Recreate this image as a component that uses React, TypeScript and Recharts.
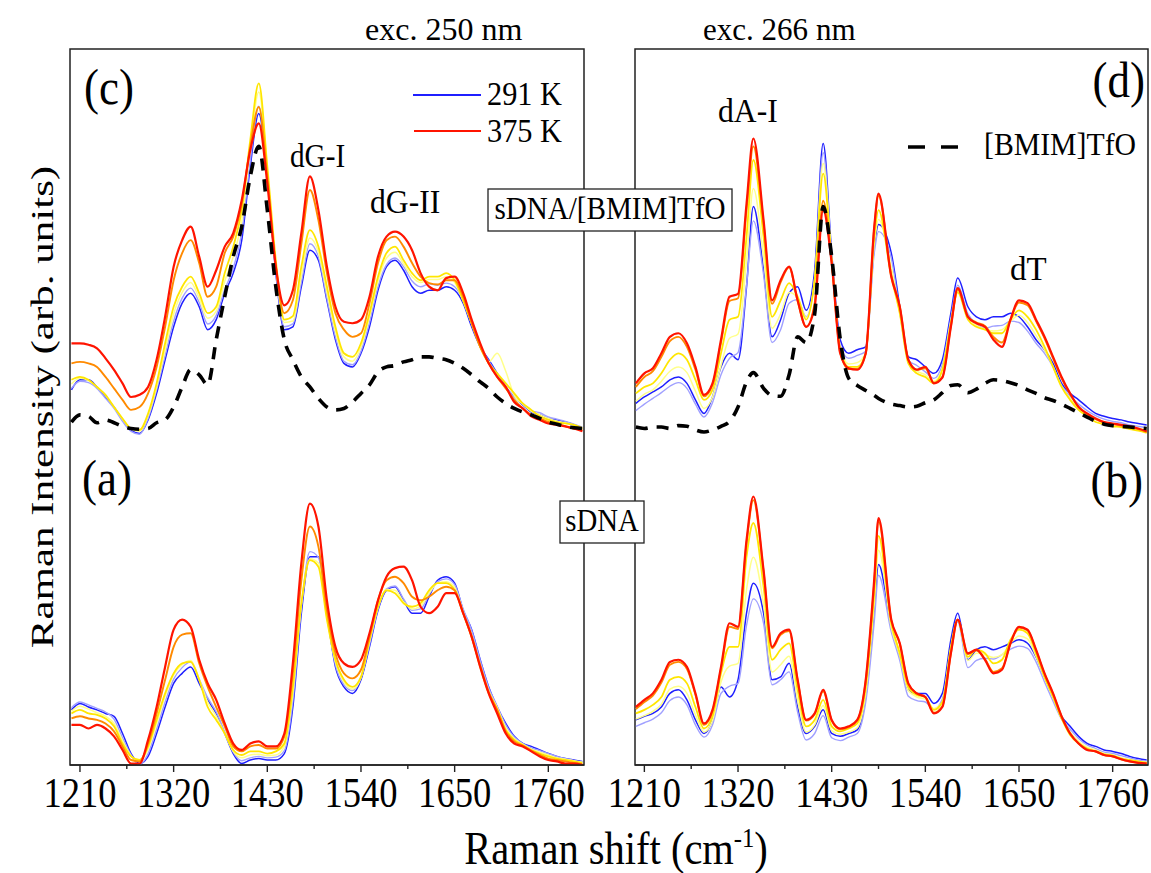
import React from 'react';
import { LineChart, Line, XAxis, YAxis, ReferenceArea } from 'recharts';

const SERIF = "'Liberation Serif', LiberationSerif, Tinos, 'Times New Roman', Times, serif";

// x positions (Raman shift, cm-1)
const wnL = [1200,1210,1220,1230,1240,1250,1260,1270,1280,1290,1300,1310,1320,1330,1340,1350,1360,1370,1380,1390,1400,1410,1420,1430,1440,1450,1460,1470,1480,1490,1500,1510,1520,1530,1540,1550,1560,1570,1580,1590,1600,1610,1620,1630,1640,1650,1660,1670,1680,1690,1700,1710,1720,1730,1740,1750,1760,1770,1780,1790,1800];
const wnR = [1200,1210,1220,1230,1240,1250,1260,1270,1280,1290,1300,1310,1320,1330,1338,1350,1360,1370,1380,1390,1400,1410,1420,1430,1440,1450,1460,1470,1480,1485,1500,1510,1520,1530,1540,1550,1560,1570,1578,1590,1600,1610,1620,1630,1640,1650,1660,1670,1680,1690,1700,1710,1720,1730,1740,1750,1760,1770,1780,1790,1800];

const majorTicks = [1210, 1320, 1430, 1540, 1650, 1760];
const allTicks = [1210, 1265, 1320, 1375, 1430, 1485, 1540, 1595, 1650, 1705, 1760];

// (c) sDNA/[BMIM]TfO, exc. 250 nm (offset upwards)
const cBlue = [52.4,53.8,53.8,52.8,51.4,50.0,48.2,46.8,46.3,48.2,51.9,56.6,61.2,64.5,65.9,64.0,60.8,62.2,65.9,68.7,73.3,83.6,91.0,82.2,68.7,60.8,61.2,66.8,71.9,70.5,64.9,59.4,56.1,55.6,57.5,61.2,66.3,69.6,70.5,69.1,66.8,65.9,66.3,66.3,66.8,66.3,64.5,61.2,58.4,56.6,54.7,52.8,51.4,50.3,49.3,48.9,48.4,48.2,47.9,47.5,47.0];
const cLight = [52.6,53.6,53.4,52.6,51.2,49.8,48.0,46.6,46.2,48.4,52.4,57.2,62.0,65.2,66.6,64.6,61.6,62.8,66.4,69.4,74.4,84.4,92.0,82.6,68.9,61.2,61.6,67.4,72.8,71.0,65.2,59.8,56.4,55.9,57.8,61.8,66.8,69.9,70.8,69.6,67.6,66.8,67.2,67.0,67.3,66.8,64.9,61.6,58.6,56.4,54.6,52.8,51.4,50.4,49.5,49.2,48.6,48.3,48.0,47.6,47.2];
const cPale = [53.2,54.0,53.7,52.8,51.6,50.0,48.3,46.9,46.6,48.8,52.8,58.0,63.0,66.0,67.4,65.2,62.4,63.4,67.6,71.0,76.0,86.2,94.0,83.2,69.8,61.8,62.0,68.4,73.6,71.6,66.0,60.6,57.0,56.4,58.4,62.6,67.6,70.8,71.6,70.0,68.2,67.4,67.8,67.8,68.2,67.4,64.8,61.6,58.5,56.3,57.5,55.0,51.6,50.4,49.4,48.9,48.4,48.0,47.8,47.5,47.1];
const cYellow = [53.8,54.2,53.8,52.8,51.7,50.0,48.4,47.0,46.8,49.1,53.3,58.9,64.0,66.8,68.2,65.9,63.1,64.0,68.7,72.4,77.5,87.3,95.2,83.6,70.5,62.2,62.7,69.6,74.7,72.4,66.8,61.2,57.5,57.0,58.9,63.1,68.2,71.5,72.4,70.5,68.7,67.7,68.2,68.2,68.7,67.7,64.9,61.7,58.4,56.1,54.7,53.3,51.9,50.5,49.6,48.7,48.2,47.9,47.7,47.5,47.0];
const cOrange = [56.1,56.3,56.1,55.6,54.2,52.6,51.0,49.6,50.0,51.9,55.6,61.2,67.7,71.5,73.3,70.1,65.4,66.8,71.5,73.8,78.4,86.4,91.9,82.2,69.6,63.1,64.9,72.8,80.3,76.1,68.7,63.1,60.8,59.8,60.3,64.5,70.1,73.3,73.8,72.4,70.1,68.2,67.3,67.1,67.7,67.7,65.4,61.7,58.4,56.1,54.2,52.6,51.0,49.8,48.9,48.4,47.9,47.7,47.3,47.0,46.8];
const cRed = [58.9,58.9,58.7,58.2,56.8,55.2,53.3,51.4,51.7,52.8,56.6,62.6,69.6,73.3,75.2,71.0,66.8,69.1,72.4,74.3,78.9,85.9,89.6,81.2,69.6,64.2,66.3,74.3,82.2,77.5,69.6,64.0,61.9,61.7,62.2,65.4,71.0,73.8,74.5,73.8,71.9,68.7,66.8,66.3,68.0,68.2,65.9,62.2,58.9,56.1,54.2,52.8,50.7,49.8,48.7,48.2,47.7,47.5,47.3,47.0,46.6];
const cIonic = [47.9,48.9,48.7,47.8,48.2,47.8,47.3,47.0,46.9,47.0,47.8,48.2,50.0,52.8,55.2,54.5,53.1,59.4,65.4,71.0,75.2,82.2,86.4,77.5,66.8,59.4,56.6,54.2,52.8,51.2,50.0,49.6,49.8,50.7,51.9,53.1,54.9,55.6,55.8,56.3,56.6,57.0,57.0,56.8,56.6,56.1,55.4,54.5,53.5,52.6,51.4,50.5,49.8,49.3,48.9,48.4,47.9,47.6,47.3,47.1,47.0];

// (a) sDNA, exc. 250 nm
const aBlue = [7.7,8.6,8.1,7.7,7.2,6.8,4.4,1.6,0.2,1.2,4.4,8.1,11.4,12.8,13.7,11.4,9.1,7.2,4.4,1.6,0.2,0.7,0.9,0.7,0.7,1.6,8.1,21.2,29.1,29.1,21.2,13.7,10.9,10.0,11.9,16.5,21.6,24.4,24.9,23.0,21.2,21.2,23.5,25.8,26.3,25.4,21.6,18.9,14.7,10.9,8.1,5.8,4.0,3.0,2.6,2.1,1.6,1.2,0.9,0.7,0.5];
const aLight = [8.0,8.8,8.4,7.9,7.4,6.4,3.8,1.4,0.0,1.6,5.0,8.8,12.0,13.6,14.4,12.0,9.4,7.4,4.6,1.8,0.6,1.0,1.2,1.0,1.1,2.0,8.9,22.0,29.8,29.0,21.0,14.0,11.2,10.4,12.2,16.8,21.8,24.6,25.0,23.2,21.6,21.8,23.8,25.6,26.0,25.2,21.8,18.8,14.6,10.8,8.2,5.6,3.9,3.0,2.4,2.0,1.6,1.2,0.9,0.6,0.4];
const aPale = [7.5,8.2,7.8,7.3,6.8,5.8,3.4,1.3,0.5,2.2,5.8,9.6,12.6,14.0,14.6,12.0,8.8,6.8,4.4,1.9,1.0,1.4,1.5,1.3,1.4,2.6,10.0,22.4,28.8,28.2,20.6,14.4,11.6,10.6,12.2,17.2,22.0,24.5,24.4,22.8,21.8,22.2,24.0,25.4,25.6,24.8,21.4,18.2,14.0,10.4,8.0,5.2,3.7,2.9,2.2,1.8,1.4,1.0,0.8,0.6,0.4];
const aYellow = [7.2,7.7,7.2,7.0,6.5,5.4,3.0,1.2,0.7,2.6,6.3,10.0,12.8,14.2,14.4,11.9,8.1,6.3,4.4,2.1,1.4,1.9,1.9,1.6,1.9,3.0,10.9,22.6,28.6,27.7,20.3,14.7,11.9,10.9,12.3,17.5,22.1,24.4,24.0,22.6,22.1,22.6,24.4,25.4,25.4,24.4,21.2,17.9,13.7,10.0,7.7,4.9,3.5,2.8,2.1,1.6,1.2,0.9,0.7,0.5,0.3];
const aOrange = [6.5,6.8,6.5,6.3,5.8,4.7,2.6,0.7,0.5,3.0,7.2,11.9,16.5,18.2,18.4,14.2,10.9,8.1,5.4,2.6,1.9,2.6,2.8,2.3,2.3,4.0,12.8,25.8,33.3,30.5,21.6,15.6,12.8,12.1,13.3,17.9,23.0,25.8,26.3,25.4,23.5,23.0,23.5,24.4,24.9,24.4,21.2,17.9,13.9,10.2,7.7,4.7,3.3,2.7,2.0,1.4,0.9,0.7,0.5,0.3,0.1];
const aRed = [5.6,5.6,5.1,5.6,5.1,4.0,2.1,0.2,0.2,3.5,8.1,13.7,18.9,20.3,19.3,14.7,11.4,9.1,5.8,3.0,2.1,3.0,3.3,2.6,2.6,4.4,14.2,28.2,36.5,33.3,23.0,16.5,14.2,13.7,14.7,18.4,23.0,26.3,27.5,27.7,25.8,22.1,21.2,22.1,24.0,24.0,21.2,17.9,13.7,10.0,7.2,4.4,3.0,2.6,1.9,1.2,0.7,0.5,0.2,0.2,0.0];

// (d) sDNA/[BMIM]TfO, exc. 266 nm
const dBlue = [50.5,51.4,52.1,52.8,53.8,54.2,53.3,51.0,49.1,51.4,55.6,57.5,56.6,66.8,78.0,69.1,59.8,62.2,65.9,66.8,63.5,69.1,86.8,71.5,59.4,57.5,58.0,58.4,72.4,75.5,71.5,64.0,57.0,56.6,55.6,54.7,56.6,63.1,68.0,64.0,62.6,62.2,62.6,62.6,63.1,62.6,61.2,59.4,58.0,56.1,53.3,51.9,51.0,50.0,49.1,48.7,48.4,48.2,47.9,47.7,47.5];
const dLight = [49.5,50.4,51.2,52.0,52.9,53.4,52.6,50.4,48.6,50.6,54.5,56.8,57.6,67.0,76.0,68.5,59.0,60.8,64.5,65.0,62.6,68.0,85.5,71.0,58.6,56.8,57.2,57.8,71.5,74.5,70.8,63.2,56.5,55.8,54.9,54.0,55.9,62.4,67.0,63.0,61.6,61.0,61.3,61.4,62.0,61.8,60.6,58.9,57.5,55.6,53.0,51.5,50.4,49.5,48.8,48.3,48.0,47.8,47.5,47.3,47.1];
const dPale = [50.8,51.8,52.4,53.6,55.0,55.6,54.8,52.2,49.8,51.4,55.8,59.6,60.2,70.5,80.5,71.0,61.0,63.0,66.0,65.3,62.5,67.8,84.0,70.8,58.2,56.0,56.2,57.6,72.8,76.2,69.5,63.2,56.3,55.0,54.5,53.6,55.4,62.0,66.2,62.6,61.4,60.9,60.6,60.8,62.0,62.8,61.8,60.0,58.0,55.6,52.9,51.2,49.9,49.0,48.3,47.9,47.6,47.4,47.2,47.0,46.8];
const dYellow = [51.9,52.8,53.3,54.7,56.6,57.5,56.6,53.8,51.0,52.4,57.5,62.2,62.6,73.8,84.5,73.8,62.6,64.9,67.3,65.4,62.2,67.7,82.6,70.5,58.0,55.6,55.6,57.5,73.8,77.5,68.2,63.1,56.1,54.7,54.2,53.3,55.2,61.7,66.0,62.2,61.2,60.8,60.3,60.3,62.2,63.5,62.6,60.8,58.4,55.6,52.8,51.0,49.6,48.7,47.9,47.6,47.3,47.2,46.9,46.7,46.4];
const dOrange = [52.8,54.2,55.0,57.0,59.2,59.8,58.4,55.2,51.5,53.1,59.0,64.8,65.2,77.6,86.4,75.6,64.4,67.4,69.5,64.8,61.2,64.5,78.8,70.2,57.6,55.3,55.3,57.5,75.0,79.5,68.4,64.0,56.6,55.2,55.4,53.4,54.2,61.3,66.4,62.6,61.8,61.3,59.8,59.0,62.2,64.6,64.2,62.0,59.6,56.8,54.0,51.8,50.0,49.0,48.3,47.8,47.6,47.4,47.2,46.9,46.5];
const dRed = [53.3,54.7,55.4,57.5,59.8,60.3,58.9,55.6,51.7,53.3,59.4,65.4,65.8,78.4,87.5,76.1,64.9,67.7,69.6,64.9,61.2,64.0,77.5,70.1,57.5,55.4,55.2,57.5,75.2,79.8,68.2,64.0,56.6,55.2,55.6,53.3,54.1,61.2,66.6,62.6,61.7,61.2,59.4,58.4,62.2,64.9,64.5,62.2,59.8,57.0,54.2,51.9,50.0,49.1,48.4,47.9,47.7,47.5,47.3,47.0,46.6];
const dIonic = [47.2,47.0,47.2,47.2,47.0,47.4,47.3,46.8,46.5,46.8,47.3,48.0,50.0,53.5,54.8,52.6,51.6,51.5,54.5,59.8,59.0,63.0,78.0,71.0,59.5,54.0,53.0,52.3,51.6,51.2,50.4,50.2,50.0,50.1,50.6,51.0,52.0,53.0,53.1,52.0,52.5,53.3,53.8,53.7,53.4,53.0,52.4,51.9,51.3,50.9,50.4,49.8,49.2,48.6,48.0,47.6,47.4,47.3,47.2,47.1,47.0];

// (b) sDNA, exc. 266 nm
const bBlue = [6.3,6.8,7.2,8.1,10.0,10.5,9.1,6.3,4.4,6.3,10.9,9.5,11.9,21.2,25.4,21.2,11.9,12.3,14.2,8.1,4.4,5.4,7.7,4.4,4.0,4.4,4.9,9.5,21.5,28.0,19.3,15.1,10.5,10.0,10.0,8.6,10.0,17.5,21.2,14.7,16.1,16.5,16.1,16.5,17.0,17.5,17.0,15.1,12.3,9.5,6.8,5.4,4.0,3.0,2.6,2.1,1.9,1.6,1.2,0.9,0.7];
const bLight = [5.4,5.9,6.4,7.3,9.0,9.5,8.4,5.6,3.9,5.6,10.0,11.0,11.4,19.5,23.2,19.8,11.2,11.9,13.0,7.4,3.5,4.4,6.9,3.8,3.4,3.9,4.4,8.8,20.0,26.5,18.6,14.6,9.6,9.0,8.8,7.8,9.2,16.4,20.0,13.6,14.6,14.9,14.8,15.4,16.2,16.6,16.3,14.4,11.6,8.9,6.4,5.0,3.7,2.8,2.3,1.8,1.6,1.3,1.0,0.7,0.5];
const bPale = [6.4,6.9,7.5,8.5,10.6,11.0,10.0,7.0,4.6,6.2,11.6,13.8,14.2,24.5,29.0,22.4,13.0,14.0,15.2,9.0,4.6,5.6,8.3,4.8,4.3,4.6,5.2,10.0,22.5,30.0,19.2,15.2,10.4,9.5,9.2,7.9,8.8,16.2,20.2,14.6,15.6,15.4,15.0,15.4,17.0,18.0,17.6,15.2,12.2,9.4,6.5,4.6,3.3,2.5,2.1,1.6,1.4,1.0,0.7,0.5,0.4];
const bYellow = [7.2,7.7,8.4,9.5,11.9,12.3,11.4,8.1,5.1,6.8,12.8,16.5,16.5,29.1,33.8,24.9,14.7,16.1,17.0,10.5,5.4,6.3,9.1,5.4,4.7,5.1,5.8,10.9,24.0,32.0,19.8,15.6,10.9,9.8,9.5,7.7,8.8,16.5,20.3,15.1,16.1,15.6,14.2,14.7,17.5,18.9,18.4,15.6,12.3,9.5,6.5,4.2,3.0,2.3,1.9,1.5,1.3,0.9,0.7,0.5,0.3];
const bOrange = [7.8,8.8,9.7,11.5,14.0,14.4,13.4,9.8,5.6,7.5,13.4,19.3,19.0,31.0,37.0,27.0,16.3,18.2,18.7,11.8,6.2,7.1,10.3,6.2,5.0,5.3,6.2,11.8,25.5,34.0,20.2,16.9,11.3,10.0,9.5,7.3,8.2,15.6,20.3,15.5,16.0,14.8,13.0,13.5,17.0,19.2,18.8,16.0,12.7,9.9,6.8,4.4,3.0,2.2,1.9,1.4,1.2,0.8,0.5,0.3,0.2];
const bRed = [8.1,9.1,10.0,11.9,14.4,14.7,13.7,10.0,5.8,7.7,13.7,19.8,19.3,31.4,37.5,27.2,16.5,18.4,18.9,11.9,6.3,7.2,10.5,6.3,5.1,5.4,6.3,11.9,26.0,34.5,20.3,17.0,11.4,10.0,9.5,7.2,8.1,15.6,20.3,15.6,16.1,14.7,12.8,13.3,17.0,19.3,18.9,16.1,12.8,10.0,6.8,4.4,3.0,2.1,1.9,1.4,1.2,0.8,0.5,0.3,0.2];

const tempColors = ['#1f1fff', '#a0a0ff', '#ffff8a', '#ffe600', '#ff8a00', '#ff1400'];
const tempWidths = [1.5, 1.4, 1.5, 1.8, 1.9, 2.2];

const leftRows = wnL.map((wn, i) => ({
  wn,
  c0: cBlue[i], c1: cLight[i], c2: cPale[i], c3: cYellow[i], c4: cOrange[i], c5: cRed[i], cI: cIonic[i],
  a0: aBlue[i], a1: aLight[i], a2: aPale[i], a3: aYellow[i], a4: aOrange[i], a5: aRed[i],
}));
const rightRows = wnR.map((wn, i) => ({
  wn,
  c0: dBlue[i], c1: dLight[i], c2: dPale[i], c3: dYellow[i], c4: dOrange[i], c5: dRed[i], cI: dIonic[i],
  a0: bBlue[i], a1: bLight[i], a2: bPale[i], a3: bYellow[i], a4: bOrange[i], a5: bRed[i],
}));

const serifStyle = { fontFamily: SERIF };

function AxisTick(props: any) {
  const { x, y, payload } = props;
  const major = majorTicks.includes(payload.value);
  return (
    <g>
      <line x1={x} x2={x} y1={y} y2={y + (major ? 7 : 4)} stroke="#222" strokeWidth={1.4} />
      {major && (
        <text transform={`translate(${x},${y + 42}) scale(0.85,1)`} textAnchor="middle"
          fontSize={43} style={serifStyle} fill="#000">{payload.value}</text>
      )}
    </g>
  );
}

function Panel({ rows, domain, width, margin }: any) {
  const keys = ['a0', 'a1', 'a2', 'a3', 'a4', 'a5', 'c0', 'c1', 'c2', 'c3', 'c4', 'c5'];
  return (
    <LineChart width={width} height={873} data={rows} margin={margin}>
      <XAxis dataKey="wn" type="number" domain={domain} ticks={allTicks} interval={0}
        tick={<AxisTick />} tickSize={0} tickMargin={0} tickLine={false} height={60}
        axisLine={{ stroke: '#222', strokeWidth: 1.5 }} allowDataOverflow />
      <YAxis type="number" domain={[0, 100]} hide width={0} allowDataOverflow />
      <ReferenceArea x1={domain[0]} x2={domain[1]} y1={0} y2={100} fill="none"
        stroke="#222" strokeWidth={1.5} ifOverflow="visible" />
      {keys.map(k => {
        const idx = Number(k[1]);
        return (
          <Line key={k} dataKey={k} type="monotone" stroke={tempColors[idx]} strokeWidth={tempWidths[idx]}
            dot={false} activeDot={false} isAnimationActive={false} />
        );
      })}
      <Line dataKey="cI" type="monotone" stroke="#000" strokeWidth={3.6} strokeDasharray="12 9"
        dot={false} activeDot={false} isAnimationActive={false} />
    </LineChart>
  );
}

function T({ x, y, s, sx = 0.92, a = 'start', children }: any) {
  return (
    <text transform={`translate(${x},${y}) scale(${sx},1)`} fontSize={s} textAnchor={a}
      style={serifStyle} fill="#000">{children}</text>
  );
}

export default function App() {
  return (
    <div style={{ position: 'absolute', left: 0, top: 0, width: 1151, height: 873, background: '#fff', overflow: 'hidden', fontFamily: SERIF }}>
      <div style={{ position: 'absolute', left: 0, top: 0 }}>
        <Panel rows={leftRows} domain={[1198.3, 1801.9]} width={600} margin={{ top: 49, right: 16, bottom: 48, left: 70 }} />
      </div>
      <div style={{ position: 'absolute', left: 600, top: 0 }}>
        <Panel rows={rightRows} domain={[1199, 1801.5]} width={551} margin={{ top: 49, right: 3, bottom: 48, left: 35 }} />
      </div>
      <svg width={1151} height={873} style={{ position: 'absolute', left: 0, top: 0, pointerEvents: 'none' }}>
        <T x={365} y={40} s={32} sx={1.0}>exc. 250 nm</T>
        <T x={703} y={40} s={32} sx={0.97}>exc. 266 nm</T>
        <T x={84} y={104} s={50} sx={0.9}>(c)</T>
        <T x={82} y={495} s={50} sx={0.9}>(a)</T>
        <T x={1145} y={97} s={50} sx={0.9} a="end">(d)</T>
        <T x={1143} y={497} s={50} sx={0.9} a="end">(b)</T>
        <line x1={413} x2={481} y1={95} y2={95} stroke="#1f1fff" strokeWidth={2} />
        <line x1={414} x2={481} y1={131} y2={131} stroke="#ff1400" strokeWidth={2} />
        <T x={487} y={105} s={33}>291 K</T>
        <T x={487} y={142} s={33}>375 K</T>
        <T x={290} y={167} s={34} sx={0.86}>dG-I</T>
        <T x={370} y={213} s={34} sx={0.93}>dG-II</T>
        <T x={718} y={122} s={34} sx={0.93}>dA-I</T>
        <T x={1010} y={280} s={34} sx={0.97}>dT</T>
        <line x1={908} x2={958} y1={147} y2={147} stroke="#000" strokeWidth={3.6} strokeDasharray="17 16" />
        <T x={984} y={155} s={32} sx={0.93}>[BMIM]TfO</T>
        <rect x={488} y={189} width={244} height={42} fill="#fff" stroke="#222" strokeWidth={1.3} />
        <T x={610} y={219} s={32} sx={0.91} a="middle">sDNA/[BMIM]TfO</T>
        <rect x={560} y={501} width={84} height={42} fill="#fff" stroke="#222" strokeWidth={1.3} />
        <T x={602} y={531} s={31} sx={0.93} a="middle">sDNA</T>
        <text transform="translate(53,407) scale(0.75,1) rotate(-90)" textAnchor="middle"
          fontSize={43} style={serifStyle} fill="#000">Raman Intensity (arb. units)</text>
        <text transform="translate(616,864) scale(0.88,1)" textAnchor="middle" fontSize={46}
          style={serifStyle} fill="#000">
          Raman shift (cm<tspan dy={-17} fontSize={28}>-1</tspan><tspan dy={17}>)</tspan>
        </text>
      </svg>
    </div>
  );
}
